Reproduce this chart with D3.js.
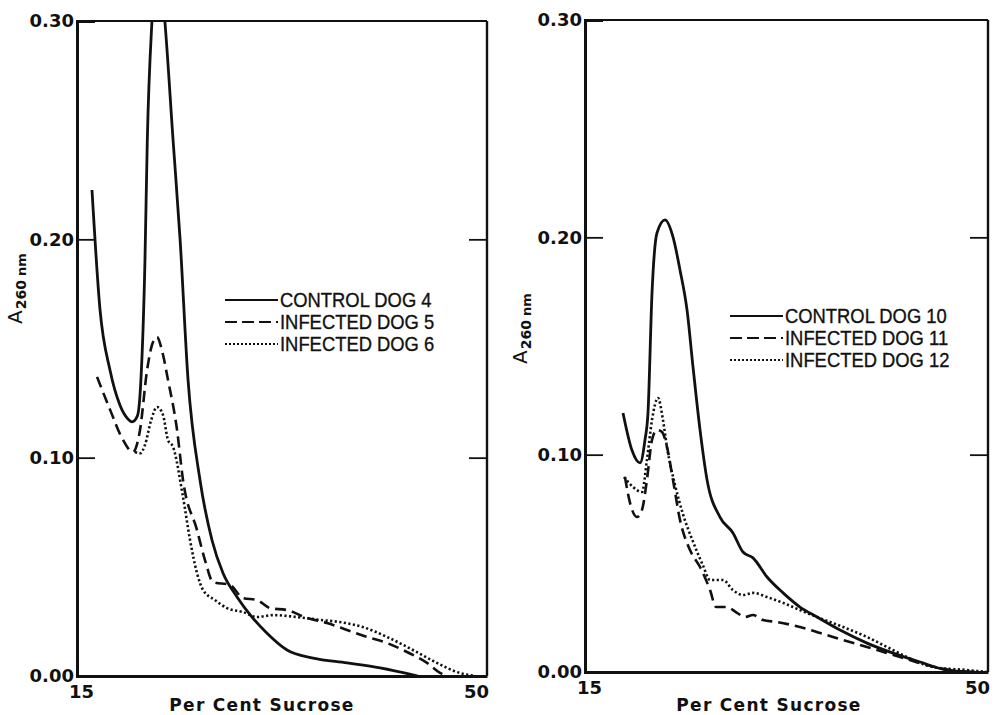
<!DOCTYPE html>
<html>
<head>
<meta charset="utf-8">
<script src="https://cdn.jsdelivr.net/npm/d3@7"></script>
<style>
  body { margin: 0; background: #fff; }
  svg { display: block; }
  .tick-label { font-family: "DejaVu Sans", sans-serif; font-weight: bold; font-size: 18px; fill: #111; }
  .legend-text { font-family: "Liberation Sans", sans-serif; font-size: 20px; fill: #111; stroke: #111; stroke-width: 0.35; }
  .x-title { font-family: "DejaVu Sans", sans-serif; font-weight: bold; font-size: 17px; letter-spacing: 1.3px; fill: #111; }
</style>
</head>
<body>
<div id="chart"></div>
<script>
// [per cent sucrose, A260]
const dog4 = [[16.28,0.2226],[16.96,0.168],[17.82,0.140],[18.67,0.124],[19.3,0.118],[19.7,0.1164],[20.15,0.119],[20.45,0.135],[20.8,0.19],[21.0,0.245],[21.4,0.30],[21.95,0.33],[22.5,0.30],[23.2,0.2455],[23.8,0.20],[24.48,0.1356],[25.5,0.0898],[26.52,0.0623],[27.46,0.0472],[28.66,0.0362],[29.94,0.027],[31.2,0.0197],[32.93,0.0119],[35.15,0.0082],[38.05,0.006],[40.87,0.0037],[44.1,0.0]];
const dog5 = [[16.71,0.137],[17.82,0.122],[18.84,0.109],[19.78,0.1026],[20.38,0.1127],[20.98,0.140],[21.4,0.1516],[21.83,0.1553],[22.26,0.149],[22.77,0.1356],[23.54,0.1127],[24.05,0.0898],[25.24,0.0669],[25.93,0.053],[26.61,0.043],[28.06,0.0417],[29.17,0.0357],[30.37,0.0348],[31.48,0.0311],[32.93,0.0302],[34.63,0.0266],[36.34,0.0243],[38.05,0.0211],[39.76,0.0179],[41.46,0.0151],[43.17,0.011],[44.88,0.006],[45.99,0.0014],[46.6,0.0]];
const dog6 = [[19.95,0.1026],[20.38,0.102],[20.8,0.1058],[21.32,0.117],[21.83,0.1232],[22.34,0.1196],[22.77,0.108],[23.2,0.1049],[24.05,0.082],[24.65,0.0623],[25.24,0.0472],[25.76,0.0394],[26.78,0.0348],[27.8,0.0311],[29.17,0.0293],[30.37,0.027],[31.73,0.0279],[33.78,0.027],[35.74,0.0257],[37.45,0.0247],[39.41,0.0224],[41.46,0.0179],[43.68,0.0119],[45.73,0.006],[47.44,0.0018],[48.98,0.0]];

const dog10 = [[18.30,0.1192],[19.08,0.102],[19.78,0.0962],[20.21,0.1068],[20.47,0.1192],[20.82,0.1744],[21.25,0.202],[21.95,0.208],[22.64,0.2002],[23.25,0.185],[23.86,0.1666],[24.38,0.1404],[24.99,0.1114],[25.6,0.0884],[26.72,0.0713],[27.85,0.064],[28.72,0.0552],[29.59,0.0525],[30.81,0.0437],[32.2,0.0364],[33.67,0.0299],[35.15,0.0253],[37.15,0.0193],[39.49,0.0133],[41.75,0.0087],[44.1,0.0046],[46.44,0.0009],[48.87,0.0]];
const dog11 = [[18.47,0.0897],[18.91,0.0778],[19.52,0.0713],[19.95,0.0746],[20.38,0.0884],[20.82,0.1068],[21.25,0.1114],[21.69,0.1104],[22.12,0.1035],[22.64,0.0884],[23.25,0.07],[24.12,0.0561],[24.99,0.0483],[25.86,0.0377],[26.38,0.0299],[27.33,0.0299],[28.2,0.0272],[28.9,0.0253],[29.59,0.0262],[30.46,0.0239],[31.68,0.023],[33.67,0.0207],[36.54,0.0161],[39.49,0.0115],[42.36,0.0069],[44.7,0.0032],[46.7,0.0009],[48.18,0.0]];
const dog12 = [[18.39,0.0897],[19.17,0.0851],[19.95,0.0828],[20.38,0.0976],[20.82,0.116],[21.34,0.1261],[21.77,0.116],[22.12,0.1035],[22.82,0.086],[23.51,0.0726],[24.38,0.060],[25.25,0.049],[25.86,0.0423],[26.99,0.0423],[27.85,0.0377],[28.72,0.0354],[29.59,0.0364],[30.81,0.0345],[32.2,0.0318],[33.67,0.0285],[35.15,0.0253],[37.41,0.0207],[39.49,0.0161],[41.23,0.0115],[42.96,0.0069],[45.22,0.0023],[48.18,0.0009],[49.91,0.0]];

const yTicks = [0, 0.10, 0.20, 0.30];
const xTicks = [15, 50];
const xTitle = "Per Cent Sucrose";
const leftLegend = ["CONTROL DOG 4", "INFECTED DOG 5", "INFECTED DOG 6"];
const rightLegend = ["CONTROL DOG 10", "INFECTED DOG 11", "INFECTED DOG 12"];

const dashes = [null, "11,6", "2.2,2.4"];

const svg = d3.select('#chart').append('svg')
  .attr('width', 999)
  .attr('height', 715);

function drawPanel(p) {
  var x = d3.scaleLinear().domain([15, 50]).range([p.left, p.right]);
  var y = d3.scaleLinear().domain([0, 0.30]).range([p.bottom, p.top]);
  var g = svg.append('g');

  g.append('clipPath').attr('id', p.id)
    .append('rect')
    .attr('x', p.left).attr('y', p.top)
    .attr('width', p.right - p.left).attr('height', p.bottom - p.top);

  var line = d3.line()
    .x(d => x(d[0]))
    .y(d => y(d[1]))
    .curve(d3.curveMonotoneX);

  g.selectAll('path.series')
    .data(p.series)
    .enter()
    .append('path')
    .attr('class', 'series')
    .attr('clip-path', `url(#${p.id})`)
    .attr('d', d => line(d))
    .attr('fill', 'none')
    .attr('stroke', '#111')
    .attr('stroke-width', (d, i) => i == 0 ? 2.8 : 2.6)
    .attr('stroke-dasharray', (d, i) => dashes[i]);

  // frame
  g.append('line').attr('x1', p.left).attr('x2', p.right).attr('y1', p.top).attr('y2', p.top)
    .attr('stroke', '#111').attr('stroke-width', 2.2);
  g.append('line').attr('x1', p.right).attr('x2', p.right).attr('y1', p.top).attr('y2', p.bottom)
    .attr('stroke', '#111').attr('stroke-width', 2.4);

  var yAxis = g.append('g')
    .attr('transform', `translate(${p.left},0)`)
    .call(d3.axisLeft(y).tickValues(yTicks).tickSize(-18).tickPadding(3).tickFormat(d3.format('.2f')));
  yAxis.select('.domain').attr('stroke-width', 3).attr('stroke', '#111');
  yAxis.selectAll('.tick line').attr('stroke-width', 1.8).attr('stroke', '#111');
  yAxis.selectAll('.tick text').attr('class', 'tick-label').attr('font-family', null).attr('font-size', null).attr('fill', null);

  var rAxis = g.append('g')
    .attr('transform', `translate(${p.right},0)`)
    .call(d3.axisRight(y).tickValues([0.10, 0.20]).tickSize(-18).tickFormat(''));
  rAxis.select('.domain').remove();
  rAxis.selectAll('.tick line').attr('stroke-width', 1.8).attr('stroke', '#111');

  var xAxis = g.append('g')
    .attr('transform', `translate(0,${p.bottom})`)
    .call(d3.axisBottom(x).tickValues(xTicks).tickSize(0).tickPadding(9).tickFormat(d3.format('d')));
  xAxis.select('.domain').attr('stroke-width', 3).attr('stroke', '#111');
  xAxis.selectAll('.tick text').attr('class', 'tick-label').attr('font-family', null).attr('font-size', null).attr('fill', null)
    .attr('dx', d => d == 15 ? 4 : -11);

  g.append('text')
    .attr('class', 'x-title')
    .attr('x', p.titleX)
    .attr('y', 711)
    .attr('text-anchor', 'middle')
    .text(xTitle);

  // A260 nm label
  var yl = g.append('text')
    .attr('transform', `translate(${p.yLabelX},${p.yLabelY}) rotate(-90)`)
    .attr('font-family', 'DejaVu Sans, sans-serif')
    .attr('fill', '#111');
  yl.append('tspan').attr('font-size', 20).text('A');
  yl.append('tspan').attr('font-size', 14).attr('font-weight', 'bold').attr('dy', 4).attr('dx', 1).text('260');
  yl.append('tspan').attr('font-size', 13).attr('font-weight', 'bold').attr('dx', 4).text('nm');

  var legend = g.selectAll('.legend-entry')
    .data(p.legend)
    .enter()
    .append('g')
    .attr('class', 'legend-entry')
    .attr('transform', (d, i) => `translate(${p.legendX},${p.legendY + i * 22})`);

  legend.append('line')
    .attr('x1', 0).attr('x2', 53)
    .attr('stroke', '#111')
    .attr('stroke-width', (d, i) => i == 0 ? 2 : 2.2)
    .attr('stroke-dasharray', (d, i) => i == 1 ? "12,5" : (i == 2 ? "2,2" : null));

  legend.append('text')
    .attr('class', 'legend-text')
    .attr('transform', 'translate(55,7) scale(0.92,1)')
    .text(d => d);
}

drawPanel({ id: 'clipL', left: 77, right: 487, top: 21, bottom: 676,
  series: [dog4, dog5, dog6], legend: leftLegend,
  legendX: 225, legendY: 300, titleX: 262, yLabelX: 22, yLabelY: 324 });

drawPanel({ id: 'clipR', left: 585, right: 988, top: 20, bottom: 672,
  series: [dog10, dog11, dog12], legend: rightLegend,
  legendX: 730, legendY: 316, titleX: 769, yLabelX: 527, yLabelY: 364 });
</script>
</body>
</html>
